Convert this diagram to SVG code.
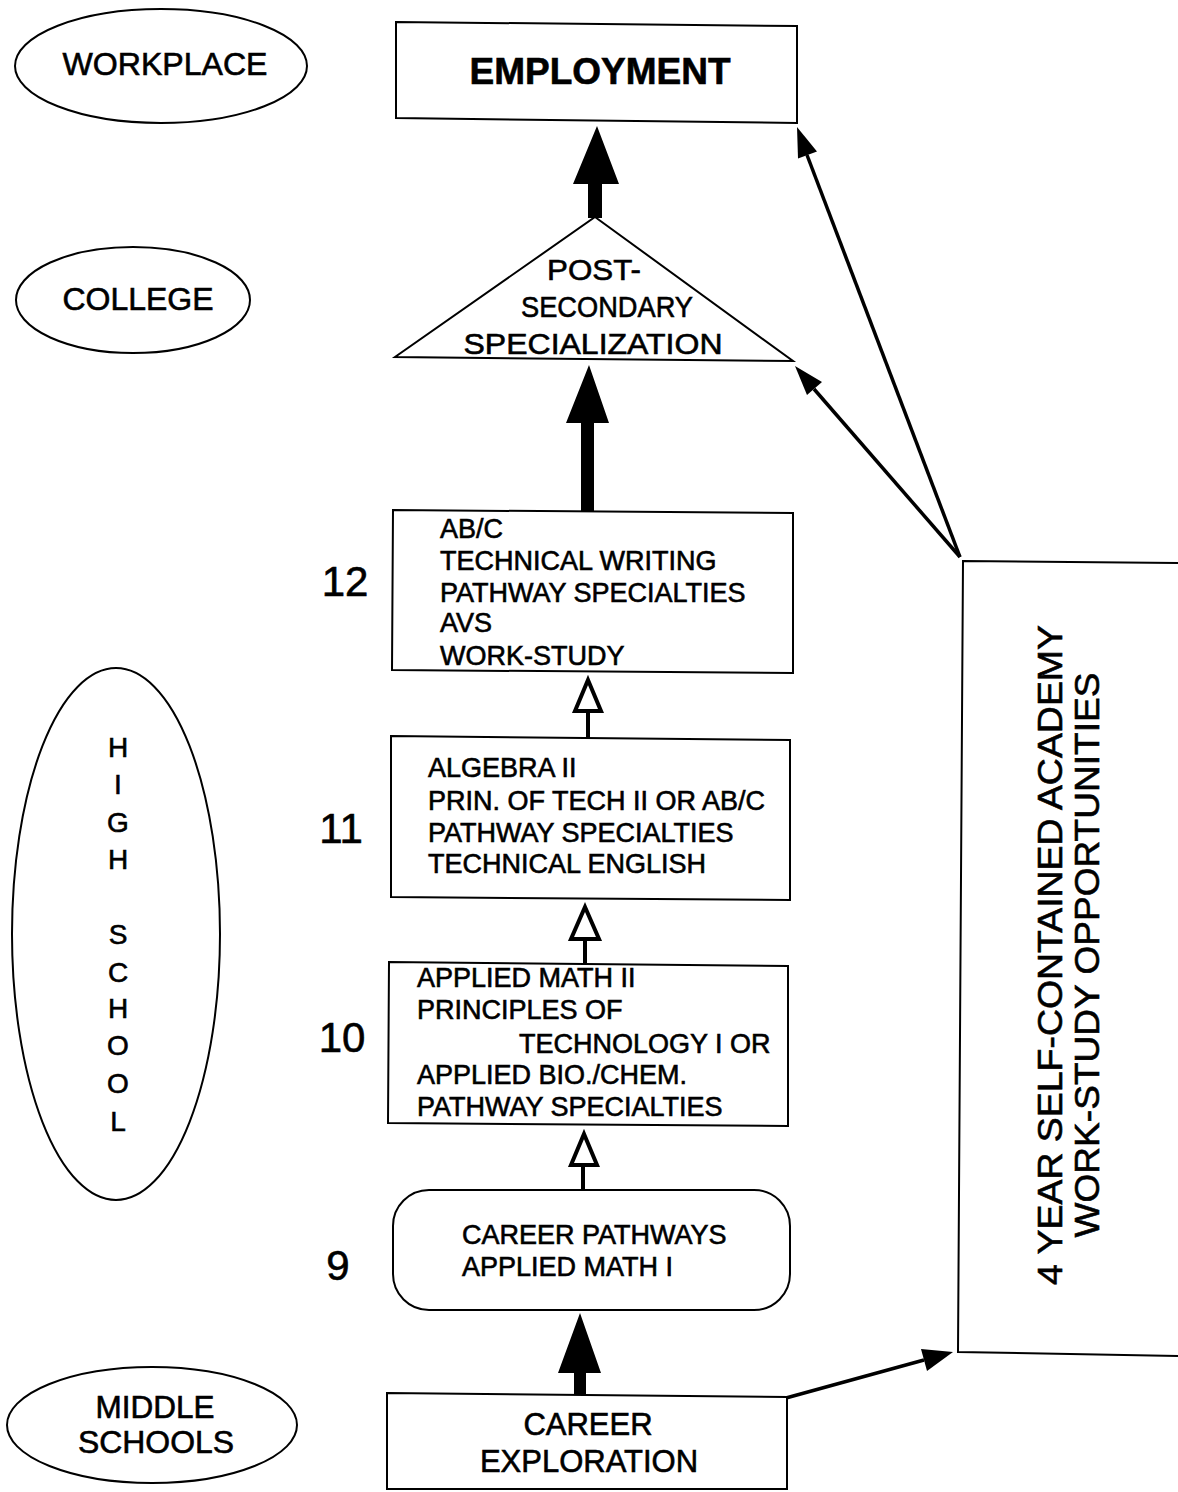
<svg xmlns="http://www.w3.org/2000/svg" width="1178" height="1492" viewBox="0 0 1178 1492">
<style>
.box{fill:#fff;stroke:#000;stroke-width:2}
.t{font-family:"Liberation Sans",Arial,sans-serif;fill:#000;stroke:#000;stroke-width:0.6}
.lbl{font-size:31px;text-anchor:middle}
.item{font-size:27px}
.num{font-size:42px;text-anchor:middle}
.solid{fill:#000;stroke:none}
.hollow{fill:#fff;stroke:#000;stroke-width:4;stroke-linejoin:miter}
.shaft{stroke:#000;stroke-width:4;fill:none}
.thin{stroke:#000;stroke-width:3.5;fill:none}
</style>
<rect width="1178" height="1492" fill="#fff"/>

<g id="workplace">
<ellipse class="box" cx="161" cy="66" rx="146" ry="57"/>
<text class="t lbl" x="165" y="75" textLength="205" lengthAdjust="spacingAndGlyphs">WORKPLACE</text>
</g>
<g id="college">
<ellipse class="box" cx="133" cy="300" rx="117" ry="53"/>
<text class="t lbl" x="138" y="310" textLength="151" lengthAdjust="spacingAndGlyphs">COLLEGE</text>
</g>
<g id="high-school">
<ellipse class="box" cx="116" cy="934" rx="104" ry="266"/>
<text class="t" font-size="28" text-anchor="middle">
<tspan x="118" y="757">H</tspan><tspan x="118" y="794">I</tspan><tspan x="118" y="832">G</tspan><tspan x="118" y="869">H</tspan><tspan x="118" y="944">S</tspan><tspan x="118" y="982">C</tspan><tspan x="118" y="1018">H</tspan><tspan x="118" y="1055">O</tspan><tspan x="118" y="1093">O</tspan><tspan x="118" y="1131">L</tspan>
</text>
</g>
<g id="middle-schools">
<ellipse class="box" cx="152" cy="1425" rx="145" ry="58"/>
<text class="t lbl" x="155" y="1418" textLength="119" lengthAdjust="spacingAndGlyphs">MIDDLE</text>
<text class="t lbl" x="156" y="1453" textLength="156" lengthAdjust="spacingAndGlyphs">SCHOOLS</text>
</g>

<g id="connectors">
<path class="solid" d="M597,126 L619,184 L602,184 L602,218 L588,218 L588,184 L573,184 Z"/>
<path class="solid" d="M589,365 L609,423 L594,423 L594,511 L581,511 L581,423 L566,423 Z"/>
<line class="shaft" x1="588" y1="712" x2="588" y2="738"/>
<path class="hollow" d="M588,680 L601,711 L575,711 Z"/>
<line class="shaft" x1="585" y1="940" x2="585" y2="963"/>
<path class="hollow" d="M585,907 L599,939 L571,939 Z"/>
<line class="shaft" x1="583" y1="1166" x2="583" y2="1191"/>
<path class="hollow" d="M584,1134 L597,1165 L571,1165 Z"/>
<path class="solid" d="M580,1313 L601,1373 L586,1373 L586,1395 L574,1395 L574,1373 L558,1373 Z"/>
<line class="thin" x1="960" y1="557" x2="807" y2="155"/>
<path class="solid" d="M797,127 L817,151.5 L798,158.5 Z"/>
<line class="thin" x1="960" y1="557" x2="814" y2="389"/>
<path class="solid" d="M795,366 L822,382 L807,395 Z"/>
<line class="thin" x1="786" y1="1398" x2="924" y2="1360"/>
<path class="solid" d="M953,1352 L927,1371 L921,1349 Z"/>
</g>

<g id="employment">
<path class="box" d="M396,22 L797,26 L797,123 L396,118 Z"/>
<text class="t" x="600" y="84" font-size="37" font-weight="bold" text-anchor="middle">EMPLOYMENT</text>
</g>
<g id="post-secondary">
<path class="box" d="M595,217 L793,361 L395,357 Z"/>
<text class="t" font-size="30" text-anchor="middle" x="594" y="280" textLength="94" lengthAdjust="spacingAndGlyphs">POST-</text>
<text class="t" font-size="30" text-anchor="middle" x="607" y="317" textLength="172" lengthAdjust="spacingAndGlyphs">SECONDARY</text>
<text class="t" font-size="30" text-anchor="middle" x="593" y="354" textLength="259" lengthAdjust="spacingAndGlyphs">SPECIALIZATION</text>
</g>
<g id="grade-12">
<path class="box" d="M393,510 L793,513 L793,673 L392,670 Z"/>
<text class="t item"><tspan x="440" y="538">AB/C</tspan><tspan x="440" y="570">TECHNICAL WRITING</tspan><tspan x="440" y="602">PATHWAY SPECIALTIES</tspan><tspan x="440" y="632">AVS</tspan><tspan x="440" y="665">WORK-STUDY</tspan></text>
<text class="t num" x="345" y="596">12</text>
</g>
<g id="grade-11">
<path class="box" d="M391,736 L790,740 L790,900 L391,897 Z"/>
<text class="t item"><tspan x="428" y="777">ALGEBRA II</tspan><tspan x="428" y="810">PRIN. OF TECH II OR AB/C</tspan><tspan x="428" y="842">PATHWAY SPECIALTIES</tspan><tspan x="428" y="873">TECHNICAL ENGLISH</tspan></text>
<text class="t num" x="341" y="843">11</text>
</g>
<g id="grade-10">
<path class="box" d="M389,962 L788,966 L788,1126 L388,1123 Z"/>
<text class="t item"><tspan x="417" y="987">APPLIED MATH II</tspan><tspan x="417" y="1019">PRINCIPLES OF</tspan><tspan x="519" y="1053">TECHNOLOGY I OR</tspan><tspan x="417" y="1084">APPLIED BIO./CHEM.</tspan><tspan x="417" y="1116">PATHWAY SPECIALTIES</tspan></text>
<text class="t num" x="342" y="1052">10</text>
</g>
<g id="grade-9">
<rect class="box" x="393" y="1190" width="397" height="120" rx="36" ry="36"/>
<text class="t item"><tspan x="462" y="1244">CAREER PATHWAYS</tspan><tspan x="462" y="1276">APPLIED MATH I</tspan></text>
<text class="t num" x="338" y="1280">9</text>
</g>
<g id="career-exploration">
<path class="box" d="M387,1393 L787,1397 L787,1489 L387,1489 Z"/>
<text class="t" font-size="31" text-anchor="middle"><tspan x="588" y="1435">CAREER</tspan><tspan x="589" y="1472">EXPLORATION</tspan></text>
</g>
<g id="academy">
<path fill="#fff" stroke="#000" stroke-width="2" d="M1178,563 L963,561 L958,1352 L1178,1356"/>
<text class="t" font-size="35" text-anchor="middle" transform="translate(1062,955) rotate(-90)" textLength="660" lengthAdjust="spacingAndGlyphs">4 YEAR SELF-CONTAINED ACADEMY</text>
<text class="t" font-size="35" text-anchor="middle" transform="translate(1099,955) rotate(-90)" textLength="565" lengthAdjust="spacingAndGlyphs">WORK-STUDY OPPORTUNITIES</text>
</g>
</svg>
